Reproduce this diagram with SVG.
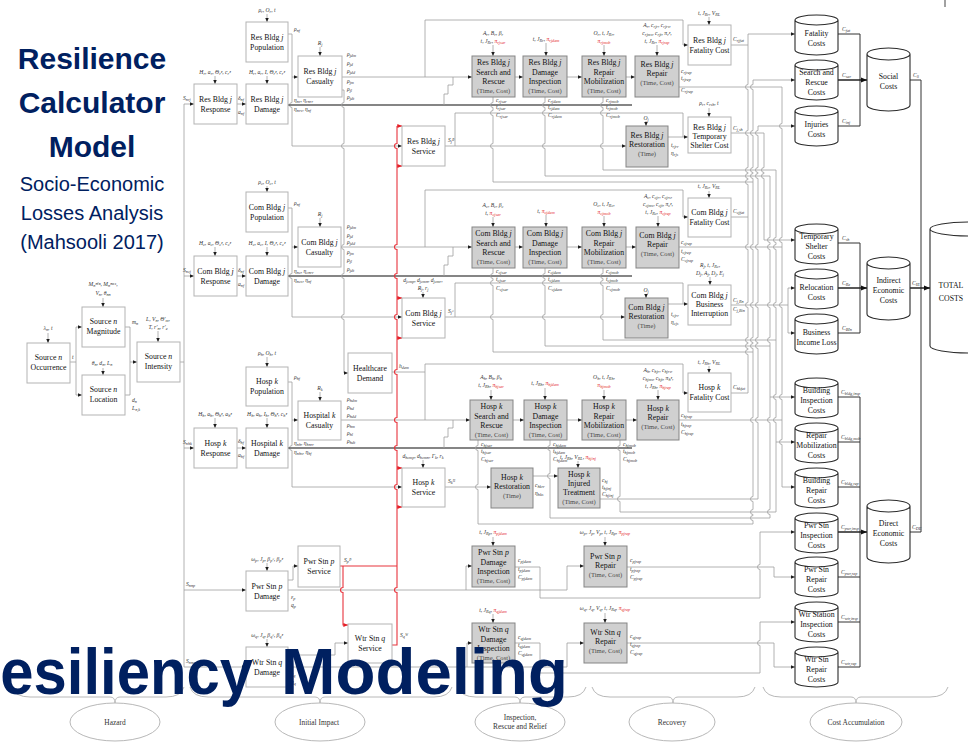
<svg xmlns="http://www.w3.org/2000/svg" width="968" height="742" viewBox="0 0 968 742">
<style>
.bx{fill:#fff;stroke:#b3b3b3;stroke-width:1}
.gb{fill:#d0d0d0;stroke:#858585;stroke-width:1}
.n{font-family:"Liberation Serif","DejaVu Serif",serif;font-size:7.8px;fill:#111;text-anchor:middle}
.tc{font-size:6.6px;fill:#4a4a4a}
.i{font-style:italic}
.p{font-family:"Liberation Serif","DejaVu Serif",serif;font-style:italic;font-size:5.6px;fill:#333;text-anchor:middle}
.pl{text-anchor:start}
.s{font-size:4.2px;baseline-shift:-1.2px}
.rd{fill:#e41e26}
.c{fill:none;stroke:#9e9e9e;stroke-width:.8}
.a{marker-end:url(#ah)}
.dk{fill:none;stroke:#5c5c5c;stroke-width:1.4}
.rl{fill:none;stroke:#e8343c;stroke-width:1.1}
.ra{marker-end:url(#ahr)}
.k{fill:none;stroke:#333;stroke-width:1}
.kb{fill:none;stroke:#222;stroke-width:1.5;marker-end:url(#ahb)}
.br{fill:none;stroke:#b8b8b8;stroke-width:1}
.el{fill:#fff;stroke:#b8b8b8;stroke-width:1}
.et{font-family:"Liberation Serif","DejaVu Serif",serif;font-size:7.4px;fill:#333;text-anchor:middle}
.tt{font-family:"Liberation Sans",Arial,sans-serif;fill:#002060;text-anchor:middle}
.ct{font-family:"Liberation Serif","DejaVu Serif",serif;font-size:7.8px;fill:#111;text-anchor:middle}
</style>
<defs>
<marker id="ah" viewBox="0 0 6 6" refX="6" refY="3" markerWidth="4.4" markerHeight="4.4" markerUnits="userSpaceOnUse" orient="auto"><path d="M0,0.4 6,3 0,5.6z" fill="#1e1e1e"/></marker>
<marker id="ahr" viewBox="0 0 6 6" refX="6" refY="3" markerWidth="4.6" markerHeight="4.6" markerUnits="userSpaceOnUse" orient="auto"><path d="M0,0.4 6,3 0,5.6z" fill="#e41e26"/></marker>
<marker id="ahb" viewBox="0 0 6 6" refX="6" refY="3" markerWidth="6.5" markerHeight="6.5" markerUnits="userSpaceOnUse" orient="auto"><path d="M0,0.5 6,3 0,5.5z" fill="#111"/></marker>
<path id="cyl" d="M0,5 A21.5,5 0 0 1 43,5 V35 A21.5,5 0 0 1 0,35 Z M0,5 A21.5,5 0 0 0 43,5" fill="#fff" stroke="#2b2b2b" stroke-width="1.1"/>
<path id="cylb" d="M0,6 A21.5,6 0 0 1 43,6 V57 A21.5,6 0 0 1 0,57 Z M0,6 A21.5,6 0 0 0 43,6" fill="#fff" stroke="#2b2b2b" stroke-width="1.1"/>
</defs>

<!-- title block -->
<g id="title">
<text class="tt" x="92" y="69" font-size="30" font-weight="700">Resilience</text>
<text class="tt" x="92" y="113" font-size="30" font-weight="700">Calculator</text>
<text class="tt" x="92" y="157" font-size="30" font-weight="700">Model</text>
<text class="tt" x="92" y="191" font-size="20">Socio-Economic</text>
<text class="tt" x="92" y="220" font-size="20">Losses Analysis</text>
<text class="tt" x="92" y="249" font-size="20">(Mahsooli 2017)</text>
</g>
<path d="M945,0 V7" stroke="#444" stroke-width="1"/>

<!-- stage brackets and stage ellipses -->
<g id="stages">
<path class="br" d="M12,687 Q15,697 30,697 H110 Q115,697 115,703 Q115,697 120,697 H166 Q181,697 184,687"/>
<path class="br" d="M190,687 Q193,697 208,697 H315 Q320,697 320,703 Q320,697 325,697 H434 Q449,697 452,687"/>
<path class="br" d="M458,687 Q461,697 476,697 H515 Q520,697 520,703 Q520,697 525,697 H568 Q583,697 586,687"/>
<path class="br" d="M592,687 Q595,697 610,697 H668 Q673,697 673,703 Q673,697 678,697 H737 Q752,697 755,687"/>
<path class="br" d="M763,687 Q766,697 781,697 H851 Q856,697 856,703 Q856,697 861,697 H930 Q945,697 948,687"/>
<g id="stage-hazard"><ellipse class="el" cx="115" cy="722" rx="45" ry="19"/><text class="et" x="115" y="725">Hazard</text></g>
<g id="stage-impact"><ellipse class="el" cx="320" cy="722" rx="45" ry="19"/><text class="et" x="319" y="725">Initial Impact</text></g>
<g id="stage-inspection"><ellipse class="el" cx="520" cy="722" rx="45" ry="19"/><text class="et" x="520" y="720">Inspection,</text><text class="et" x="520" y="729">Rescue and Relief</text></g>
<g id="stage-recovery"><ellipse class="el" cx="672" cy="722" rx="43" ry="19"/><text class="et" x="672" y="725">Recovery</text></g>
<g id="stage-cost"><ellipse class="el" cx="856" cy="722" rx="46" ry="19"/><text class="et" x="856" y="725">Cost Accumulation</text></g>
</g>

<!-- connectors -->
<g id="connectors">
<!-- hazard -->
<path class="c a" d="M48,333 V343"/>
<path class="c a" d="M103,298 V307"/>
<path class="c a" d="M103,368 V375"/>
<path class="c a" d="M158,331 V342"/>
<path class="c" d="M70,362 H76 M76,327 V395"/>
<path class="c a" d="M76,327 H82"/>
<path class="c a" d="M76,395 H82"/>
<path class="c" d="M125,327 H130 V395 H125"/>
<path class="c a" d="M130,362 H137"/>
<path class="c" d="M180,362 H184 M184,104 V667"/>
<path class="c a" d="M184,104 H194"/>
<path class="c a" d="M184,276 H194"/>
<path class="c a" d="M184,448 H194"/>
<path class="c a" d="M184,590 H246"/>
<path class="c a" d="M184,667 H246"/>

<!-- parameter arrows -->
<path class="c a" d="M267,14 V22"/><path class="c a" d="M215,76 V84"/><path class="c a" d="M267,76 V84"/><path class="c a" d="M320,47 V56"/>
<path class="c a" d="M267,186 V192"/><path class="c a" d="M215,247 V256"/><path class="c a" d="M267,247 V256"/><path class="c a" d="M320,218 V227"/>
<path class="c a" d="M267,357 V367"/><path class="c a" d="M215,418 V428"/><path class="c a" d="M267,418 V428"/><path class="c a" d="M320,392 V401"/>
<path class="c a" d="M493,45 V56"/><path class="c a" d="M546,43 V56"/><path class="c a" d="M604,45 V56"/><path class="c a" d="M657,45 V56"/><path class="c a" d="M709,17 V25"/><path class="c a" d="M709,108 V117"/><path class="c a" d="M646,121 V126"/>
<path class="c a" d="M493,217 V227"/><path class="c a" d="M546,215 V227"/><path class="c a" d="M604,216 V227"/><path class="c a" d="M658,216 V227"/><path class="c a" d="M709,191 V198"/><path class="c a" d="M710,277 V285"/><path class="c a" d="M646,294 V298"/><path class="c a" d="M423,292 V298"/>
<path class="c a" d="M491,390 V400"/><path class="c a" d="M545,388 V400"/><path class="c a" d="M604,390 V400"/><path class="c a" d="M658,390 V400"/><path class="c a" d="M709,366 V373"/><path class="c a" d="M578,461 V468"/><path class="c a" d="M423,460 V468"/>
<path class="c a" d="M267,563 V571"/><path class="c a" d="M493,537 V546"/><path class="c a" d="M605,537 V546"/>
<path class="c a" d="M267,639 V647"/><path class="c a" d="M493,614 V623"/><path class="c a" d="M605,613 V623"/>

<!-- response to damage -->
<path class="c a" d="M237,104 H246"/><path class="c a" d="M237,276 H246"/><path class="c a" d="M237,448 H246"/>

<!-- population feeds -->
<path class="c a" d="M288,34 H292 V102.5 a2.5,2.5 0 0 0 0,5 V146 H402"/>
<path class="c a" d="M292,77 H298"/>
<path class="c a" d="M288,208 H292 V273.5 a2.5,2.5 0 0 0 0,5 V317 H402"/>
<path class="c a" d="M292,247 H298"/>
<path class="c a" d="M288,382 H292 V445.5 a2.5,2.5 0 0 0 0,5 V487 H402"/>
<path class="c a" d="M292,420 H298"/>

<!-- damage state lines -->
<path class="dk" d="M288,105 H632"/>
<path class="dk" d="M288,276 H632"/>
<path class="dk" d="M288,448 H632"/>

<!-- casualty to search and rescue -->
<path class="c a" d="M342,77 H472"/>
<path class="c a" d="M341,247 H472"/>
<path class="c a" d="M341,420 H470"/>
<path class="c" d="M444,105 V94 H448 V85 H453 V77"/>
<path class="c" d="M444,276 V265 H448 V256 H453 V247"/>
<path class="c" d="M444,448 V437 H448 V428 H453 V420"/>
<path class="c a" d="M425,77 V20 H683 V45 H688"/>
<path class="c a" d="M425,247 V190 H683 V217 H688"/>
<path class="c a" d="M425,420 V364 H683 V393 H688"/>
<path class="c" d="M392,372 H425"/>

<!-- healthcare demand -->
<path class="c a" d="M342,90 H344 V102.5 a2.5,2.5 0 0 0 0,5 V143.5 a2.5,2.5 0 0 0 0,5 V244.5 a2.5,2.5 0 0 0 0,5 V273.5 a2.5,2.5 0 0 0 0,5 V314.5 a2.5,2.5 0 0 0 0,5 V373 H348"/>

<!-- service outputs -->
<path class="c a" d="M445,146 H626"/>
<path class="c a" d="M455,146 V113 H683 V137 H688"/>
<path class="c" d="M668,137 H683"/>
<path class="c a" d="M445,317 H625"/>
<path class="c a" d="M455,317 V283 H683 V304 H688"/>
<path class="c" d="M668,304 H683"/>
<path class="c a" d="M445,487 H491"/>
<path class="c a" d="M533,476 H558"/>

<!-- inspection and repair chains -->
<path class="c a" d="M515,77 H523"/><path class="c a" d="M567,77 H582"/><path class="c a" d="M626,77 H635"/>
<path class="c a" d="M515,247 H523"/><path class="c a" d="M567,247 H582"/><path class="c a" d="M626,247 H636"/>
<path class="c a" d="M513,420 H524"/><path class="c a" d="M567,420 H582"/><path class="c a" d="M626,420 H637"/>

<!-- cost outputs dropping to the buses -->
<path class="c" d="M493,97 V102.5 a2.5,2.5 0 0 0 0,5 V110.5 a2.5,2.5 0 0 0 0,5 V143.5 a2.5,2.5 0 0 0 0,5 V182 H753"/>
<path class="c" d="M545,97 V102.5 a2.5,2.5 0 0 0 0,5 V110.5 a2.5,2.5 0 0 0 0,5 V143.5 a2.5,2.5 0 0 0 0,5 V176 H770"/>
<path class="c" d="M603,97 V102.5 a2.5,2.5 0 0 0 0,5 V110.5 a2.5,2.5 0 0 0 0,5 V143.5 a2.5,2.5 0 0 0 0,5 V170 H776"/>
<path class="c" d="M679,87 H782"/><path class="c" d="M731,45 H748"/><path class="c" d="M731,133 H764"/>
<path class="c" d="M493,268 V273.5 a2.5,2.5 0 0 0 0,5 V280.5 a2.5,2.5 0 0 0 0,5 V314.5 a2.5,2.5 0 0 0 0,5 V352 H753"/>
<path class="c" d="M545,268 V273.5 a2.5,2.5 0 0 0 0,5 V280.5 a2.5,2.5 0 0 0 0,5 V314.5 a2.5,2.5 0 0 0 0,5 V346 H770"/>
<path class="c" d="M603,268 V273.5 a2.5,2.5 0 0 0 0,5 V280.5 a2.5,2.5 0 0 0 0,5 V314.5 a2.5,2.5 0 0 0 0,5 V340 H776"/>
<path class="c" d="M679,247 H782"/><path class="c" d="M731,217 H748"/><path class="c" d="M731,305 H788"/>
<path class="c" d="M478,440 V445.5 a2.5,2.5 0 0 0 0,5 V484.5 a2.5,2.5 0 0 0 0,5 V524 H753"/>
<path class="c" d="M550,440 V445.5 a2.5,2.5 0 0 0 0,5 V473.5 a2.5,2.5 0 0 0 0,5 V518 H770"/>
<path class="c" d="M620,440 V445.5 a2.5,2.5 0 0 0 0,5 V496.5 a2.5,2.5 0 0 0 0,5 V512 H776"/>
<path class="c" d="M679,420 H782"/><path class="c" d="M731,393 H748"/><path class="c" d="M600,499 H758"/>

<!-- cost buses -->
<path class="c" d="M748,34 V84.5 a2.5,2.5 0 0 0 0,5 V130.5 a2.5,2.5 0 0 0 0,5 V167.5 a2.5,2.5 0 0 0 0,5 V173.5 a2.5,2.5 0 0 0 0,5 V179.5 a2.5,2.5 0 0 0 0,5 V244.5 a2.5,2.5 0 0 0 0,5 V302.5 a2.5,2.5 0 0 0 0,5 V337.5 a2.5,2.5 0 0 0 0,5 V343.5 a2.5,2.5 0 0 0 0,5 V349.5 a2.5,2.5 0 0 0 0,5 V393"/>
<path class="c" d="M753,80 V84.5 a2.5,2.5 0 0 0 0,5 V130.5 a2.5,2.5 0 0 0 0,5 V167.5 a2.5,2.5 0 0 0 0,5 V173.5 a2.5,2.5 0 0 0 0,5 V244.5 a2.5,2.5 0 0 0 0,5 V302.5 a2.5,2.5 0 0 0 0,5 V337.5 a2.5,2.5 0 0 0 0,5 V343.5 a2.5,2.5 0 0 0 0,5 V417.5 a2.5,2.5 0 0 0 0,5 V496.5 a2.5,2.5 0 0 0 0,5 V509.5 a2.5,2.5 0 0 0 0,5 V515.5 a2.5,2.5 0 0 0 0,5 V524"/>
<path class="c" d="M758,126 V130.5 a2.5,2.5 0 0 0 0,5 V167.5 a2.5,2.5 0 0 0 0,5 V173.5 a2.5,2.5 0 0 0 0,5 V244.5 a2.5,2.5 0 0 0 0,5 V302.5 a2.5,2.5 0 0 0 0,5 V337.5 a2.5,2.5 0 0 0 0,5 V343.5 a2.5,2.5 0 0 0 0,5 V417.5 a2.5,2.5 0 0 0 0,5 V499"/>
<path class="c" d="M764,133 V167.5 a2.5,2.5 0 0 0 0,5 V173.5 a2.5,2.5 0 0 0 0,5 V240"/>
<path class="c" d="M770,176 V237.5 a2.5,2.5 0 0 0 0,5 V244.5 a2.5,2.5 0 0 0 0,5 V302.5 a2.5,2.5 0 0 0 0,5 V337.5 a2.5,2.5 0 0 0 0,5 V417.5 a2.5,2.5 0 0 0 0,5 V509.5 a2.5,2.5 0 0 0 0,5 V518"/>
<path class="c" d="M776,170 V237.5 a2.5,2.5 0 0 0 0,5 V244.5 a2.5,2.5 0 0 0 0,5 V302.5 a2.5,2.5 0 0 0 0,5 V394.5 a2.5,2.5 0 0 0 0,5 V417.5 a2.5,2.5 0 0 0 0,5 V512"/>
<path class="c" d="M782,87 V123.5 a2.5,2.5 0 0 0 0,5 V237.5 a2.5,2.5 0 0 0 0,5 V302.5 a2.5,2.5 0 0 0 0,5 V394.5 a2.5,2.5 0 0 0 0,5 V439.5 a2.5,2.5 0 0 0 0,5 V487"/>
<path class="c" d="M788,288 V333"/>
<path class="c a" d="M748,34 H795"/>
<path class="c a" d="M753,80 H795"/>
<path class="c a" d="M758,126 H795"/>
<path class="c a" d="M764,240 H795"/>
<path class="c a" d="M788,288 H795"/>
<path class="c a" d="M788,333 H795"/>
<path class="c a" d="M770,397 H795"/>
<path class="c a" d="M776,442 H795"/>
<path class="c a" d="M782,487 H795"/>

<!-- lifelines: power station -->
<path class="c a" d="M288,580 H293 V566 H298"/>
<path class="c" d="M288,590 H567"/>
<path class="c a" d="M466,590 V566 H472"/>
<path class="c a" d="M567,590 V566 H584"/>
<path class="c a" d="M515,567 H540 V598 H760 V569.5 a2.5,2.5 0 0 1 0,-5 V532 H795"/>
<path class="c a" d="M627,567 H774 V577 H795"/>
<!-- lifelines: water station -->
<path class="c a" d="M288,655 H335 V643 H348"/>
<path class="c" d="M288,667 H567"/>
<path class="c a" d="M467,667 V643 H472"/>
<path class="c a" d="M567,667 V643 H584"/>
<path class="c a" d="M515,643 H540 V673 H760 V645.5 a2.5,2.5 0 0 1 0,-5 V622 H795"/>
<path class="c a" d="M627,643 H774 V667 H795"/>

<!-- utility service line -->
<path class="rl" d="M397,126 V143.5 a2.5,2.5 0 0 0 0,5 V244.5 a2.5,2.5 0 0 0 0,5 V273.5 a2.5,2.5 0 0 0 0,5 V314.5 a2.5,2.5 0 0 0 0,5 V369.5 a2.5,2.5 0 0 0 0,5 V417.5 a2.5,2.5 0 0 0 0,5 V445.5 a2.5,2.5 0 0 0 0,5 V484.5 a2.5,2.5 0 0 0 0,5 V587.5 a2.5,2.5 0 0 0 0,5 V645 H392"/>
<path class="rl" d="M340,566 H397"/>
<path class="rl ra" d="M343,566 V587.5 a2.5,2.5 0 0 0 0,5 V625 H348"/>
<path class="rl ra" d="M397,126 H402"/><path class="rl ra" d="M397,166 H402"/>
<path class="rl ra" d="M397,298 H402"/><path class="rl ra" d="M397,338 H402"/>
<path class="rl ra" d="M397,468 H402"/><path class="rl ra" d="M397,507 H402"/>

<!-- cost accumulation -->
<path class="k" d="M838,34 H860 V126 H838"/>
<path class="kb" d="M838,80 H867"/>
<path class="k" d="M838,243 H860 V333 H838"/>
<path class="kb" d="M838,288 H867"/>
<path class="k" d="M838,397 H860 V667 H838 M838,442 H860 M838,487 H860 M838,577 H860 M838,622 H860"/>
<path class="kb" d="M838,532 H867"/>
<path class="k" d="M910,80 H921 V532 H910"/>
<path class="kb" d="M910,288 H930"/>
</g>

<!-- hazard nodes -->
<g id="source-occurrence"><rect class="bx" x="27" y="343" width="43" height="40"/><text class="n" x="48.5" y="360">Source <tspan class="i">n</tspan></text><text class="n" x="48.5" y="370">Occurrence</text><text class="p" x="48" y="330">λ<tspan class="s">n</tspan>, t</text><text class="p pl" x="72" y="359">t</text></g>
<g id="source-magnitude"><rect class="bx" x="82" y="307" width="43" height="40"/><text class="n" x="103.5" y="324">Source <tspan class="i">n</tspan></text><text class="n" x="103.5" y="334">Magnitude</text><text class="p" x="103" y="286">M<tspan class="s">n</tspan>ᵐⁱⁿ, M<tspan class="s">n</tspan>ᵐᵃˣ,</text><text class="p" x="103" y="295">V<tspan class="s">n</tspan>, θ<tspan class="s">nn</tspan></text><text class="p pl" x="132" y="324">m<tspan class="s">n</tspan></text></g>
<g id="source-location"><rect class="bx" x="82" y="375" width="43" height="40"/><text class="n" x="103.5" y="392">Source <tspan class="i">n</tspan></text><text class="n" x="103.5" y="402">Location</text><text class="p" x="102" y="365">θ<tspan class="s">n</tspan>, d<tspan class="s">n</tspan>, L<tspan class="s">n</tspan></text><text class="p pl" x="132" y="402">d<tspan class="s">n</tspan></text><text class="p pl" x="132" y="410">L<tspan class="s">n,k</tspan></text></g>
<g id="source-intensity"><rect class="bx" x="137" y="342" width="43" height="40"/><text class="n" x="158.5" y="359">Source <tspan class="i">n</tspan></text><text class="n" x="158.5" y="369">Intensity</text><text class="p" x="158" y="321">L, V<tspan class="s">n</tspan>, Θ'<tspan class="s">m</tspan>,</text><text class="p" x="158" y="329">T, r'<tspan class="s">n</tspan>, r'<tspan class="s">e</tspan></text></g>
<g id="intensity-labels"><text class="p pl" x="183" y="100">S<tspan class="s">nrj</tspan></text><text class="p pl" x="183" y="272">S<tspan class="s">ncj</tspan></text><text class="p pl" x="183" y="444">S<tspan class="s">nhk</tspan></text><text class="p pl" x="186" y="586">S<tspan class="s">nnp</tspan></text><text class="p pl" x="186" y="663">S<tspan class="s">nnq</tspan></text></g>

<!-- residential buildings -->
<g id="res-population"><rect class="bx" x="246" y="22" width="42" height="40"/><text class="n" x="267" y="40">Res Bldg <tspan class="i">j</tspan></text><text class="n" x="267" y="50">Population</text><text class="p" x="267" y="12">ρ<tspan class="s">r</tspan>, O<tspan class="s">r</tspan>, t</text><text class="p pl" x="294" y="31">ρ<tspan class="s">nf</tspan></text></g>
<g id="res-response"><rect class="bx" x="194" y="84" width="43" height="40"/><text class="n" x="215.5" y="102">Res Bldg <tspan class="i">j</tspan></text><text class="n" x="215.5" y="112">Response</text><text class="p" x="215" y="74">H<tspan class="s">r</tspan>, a<tspan class="s">r</tspan>, Θ<tspan class="s">r</tspan>ᵉ, c<tspan class="s">r</tspan>ᵉ</text><text class="p pl" x="238" y="100">δ<tspan class="s">nf</tspan></text><text class="p pl" x="238" y="114">a<tspan class="s">nf</tspan></text></g>
<g id="res-damage"><rect class="bx" x="246" y="84" width="42" height="40"/><text class="n" x="267" y="102">Res Bldg <tspan class="i">j</tspan></text><text class="n" x="267" y="112">Damage</text><text class="p" x="267" y="74">H<tspan class="s">r</tspan>, a<tspan class="s">r</tspan>, I, Θ<tspan class="s">r</tspan>ᵉ, c<tspan class="s">r</tspan>ᵉ</text><text class="p pl" x="294" y="102">η<tspan class="s">nr</tspan>, η<tspan class="s">rnrr</tspan></text><text class="p pl" x="294" y="111">η<tspan class="s">nrs</tspan>, η<tspan class="s">nf</tspan></text></g>
<g id="res-casualty"><rect class="bx" x="298" y="56" width="44" height="41"/><text class="n" x="320" y="74">Res Bldg <tspan class="i">j</tspan></text><text class="n" x="320" y="84">Casualty</text><text class="p" x="320" y="45">R<tspan class="s">j</tspan></text><text class="p pl" x="347" y="56">ρ<tspan class="s">jdm</tspan></text><text class="p pl" x="347" y="64.5">ρ<tspan class="s">jd</tspan></text><text class="p pl" x="347" y="73">ρ<tspan class="s">jdd</tspan></text><text class="p pl" x="347" y="83">ρ<tspan class="s">jm</tspan></text><text class="p pl" x="347" y="91">ρ<tspan class="s">jl</tspan></text><text class="p pl" x="347" y="99">ρ<tspan class="s">jdt</tspan></text></g>
<g id="res-service"><rect class="bx" x="402" y="126" width="43" height="40"/><text class="n" x="423.5" y="144">Res Bldg <tspan class="i">j</tspan></text><text class="n" x="423.5" y="154">Service</text><text class="p pl" x="448" y="142">S<tspan class="s">j</tspan>ᴿ</text></g>
<g id="res-search-rescue"><rect class="gb" x="472" y="56" width="43" height="41"/><text class="n" x="493.5" y="65">Res Bldg <tspan class="i">j</tspan></text><text class="n" x="493.5" y="74.5">Search and</text><text class="n" x="493.5" y="84">Rescue</text><text class="n tc" x="493.5" y="93">(Time, Cost)</text><text class="p" x="493" y="35">A<tspan class="s">r</tspan>, B<tspan class="s">r</tspan>, β<tspan class="s">r</tspan></text><text class="p" x="493" y="43">t, J<tspan class="s">Rr</tspan>, <tspan class="rd">π<tspan class="s">rjsar</tspan></tspan></text><text class="p pl" x="496" y="102">c<tspan class="s">rjsar</tspan></text><text class="p pl" x="496" y="109">t<tspan class="s">rjsar</tspan></text><text class="p pl" x="496" y="117">C<tspan class="s">rjsar</tspan></text></g>
<g id="res-damage-inspection"><rect class="gb" x="523" y="56" width="44" height="41"/><text class="n" x="545" y="65">Res Bldg <tspan class="i">j</tspan></text><text class="n" x="545" y="74.5">Damage</text><text class="n" x="545" y="84">Inspection</text><text class="n tc" x="545" y="93">(Time, Cost)</text><text class="p" x="546" y="41">t, J<tspan class="s">Rr</tspan>, <tspan class="rd">π<tspan class="s">rjdam</tspan></tspan></text><text class="p pl" x="548" y="102">c<tspan class="s">rjdam</tspan></text><text class="p pl" x="548" y="109">t<tspan class="s">rjdam</tspan></text><text class="p pl" x="548" y="117">C<tspan class="s">rjdam</tspan></text></g>
<g id="res-repair-mobilization"><rect class="gb" x="582" y="56" width="44" height="41"/><text class="n" x="604" y="65">Res Bldg <tspan class="i">j</tspan></text><text class="n" x="604" y="74.5">Repair</text><text class="n" x="604" y="84">Mobilization</text><text class="n tc" x="604" y="93">(Time, Cost)</text><text class="p" x="604" y="35">O<tspan class="s">r</tspan>, t, J<tspan class="s">Rr</tspan>,</text><text class="p rd" x="604" y="43">π<tspan class="s">rjmob</tspan></text><text class="p pl" x="606" y="102">c<tspan class="s">rjmob</tspan></text><text class="p pl" x="606" y="109">t<tspan class="s">rjmob</tspan></text><text class="p pl" x="606" y="117">C<tspan class="s">rjmob</tspan></text></g>
<g id="res-repair"><rect class="gb" x="635" y="56" width="44" height="41"/><text class="n" x="657" y="67">Res Bldg <tspan class="i">j</tspan></text><text class="n" x="657" y="76">Repair</text><text class="n tc" x="657" y="85">(Time, Cost)</text><text class="p" x="657" y="27">A<tspan class="s">r</tspan>, c<tspan class="s">rjr</tspan>, c<tspan class="s">rjrs</tspan>,</text><text class="p" x="657" y="35">c<tspan class="s">rjms</tspan>, c<tspan class="s">rjt</tspan>, π<tspan class="s">r</tspan>ᵉ,</text><text class="p" x="657" y="43">t, J<tspan class="s">Rr</tspan>, <tspan class="rd">π<tspan class="s">rjrep</tspan></tspan></text><text class="p pl" x="681" y="73">c<tspan class="s">rjrep</tspan></text><text class="p pl" x="681" y="80">t<tspan class="s">rjrep</tspan></text><text class="p pl" x="681" y="92">C<tspan class="s">rjrep</tspan></text></g>
<g id="res-restoration"><rect class="gb" x="626" y="126" width="42" height="41"/><text class="n" x="647" y="138">Res Bldg <tspan class="i">j</tspan></text><text class="n" x="647" y="147">Restoration</text><text class="n tc" x="647" y="156">(Time)</text><text class="p" x="646" y="120">O<tspan class="s">j</tspan></text><text class="p pl" x="671" y="147">t<tspan class="s">rjrr</tspan></text><text class="p pl" x="671" y="155">η<tspan class="s">rjs</tspan></text></g>
<g id="res-fatality-cost"><rect class="bx" x="688" y="25" width="43" height="40"/><text class="n" x="709.5" y="43">Res Bldg <tspan class="i">j</tspan></text><text class="n" x="709.5" y="53">Fatality Cost</text><text class="p" x="709" y="15">t, J<tspan class="s">Rr</tspan>, V<tspan class="s">RL</tspan></text><text class="p pl" x="733" y="41">C<tspan class="s">rjfat</tspan></text></g>
<g id="res-shelter-cost"><rect class="bx" x="688" y="117" width="43" height="36"/><text class="n" x="709.5" y="130">Res Bldg <tspan class="i">j</tspan></text><text class="n" x="709.5" y="139">Temporary</text><text class="n" x="709.5" y="148">Shelter Cost</text><text class="p" x="709" y="105">ρ<tspan class="s">r</tspan>, c<tspan class="s">rsh</tspan>, t</text><text class="p pl" x="733" y="130">C<tspan class="s">j,sh</tspan></text></g>

<!-- commercial buildings -->
<g id="com-population"><rect class="bx" x="246" y="192" width="42" height="40"/><text class="n" x="267" y="210">Com Bldg <tspan class="i">j</tspan></text><text class="n" x="267" y="220">Population</text><text class="p" x="267" y="184">ρ<tspan class="s">c</tspan>, O<tspan class="s">c</tspan>, t</text><text class="p pl" x="294" y="205">ρ<tspan class="s">nf</tspan></text></g>
<g id="com-response"><rect class="bx" x="194" y="256" width="43" height="40"/><text class="n" x="215.5" y="274">Com Bldg <tspan class="i">j</tspan></text><text class="n" x="215.5" y="284">Response</text><text class="p" x="215" y="245">H<tspan class="s">c</tspan>, a<tspan class="s">c</tspan>, Θ<tspan class="s">c</tspan>ᵉ, c<tspan class="s">c</tspan>ᵉ</text><text class="p pl" x="238" y="272">δ<tspan class="s">nf</tspan></text><text class="p pl" x="238" y="286">a<tspan class="s">nf</tspan></text></g>
<g id="com-damage"><rect class="bx" x="246" y="256" width="42" height="40"/><text class="n" x="267" y="274">Com Bldg <tspan class="i">j</tspan></text><text class="n" x="267" y="284">Damage</text><text class="p" x="267" y="245">H<tspan class="s">c</tspan>, a<tspan class="s">c</tspan>, I, Θ<tspan class="s">c</tspan>ᵉ, c<tspan class="s">c</tspan>ᵉ</text><text class="p pl" x="294" y="273">η<tspan class="s">nc</tspan>, η<tspan class="s">cnrr</tspan></text><text class="p pl" x="294" y="282">η<tspan class="s">ncs</tspan>, η<tspan class="s">nf</tspan></text></g>
<g id="com-casualty"><rect class="bx" x="298" y="227" width="43" height="40"/><text class="n" x="319.5" y="245">Com Bldg <tspan class="i">j</tspan></text><text class="n" x="319.5" y="255">Casualty</text><text class="p" x="320" y="216">R<tspan class="s">j</tspan></text><text class="p pl" x="347" y="228">ρ<tspan class="s">jdm</tspan></text><text class="p pl" x="347" y="236.5">ρ<tspan class="s">jd</tspan></text><text class="p pl" x="347" y="244">ρ<tspan class="s">jdd</tspan></text><text class="p pl" x="347" y="254">ρ<tspan class="s">jm</tspan></text><text class="p pl" x="347" y="262">ρ<tspan class="s">jl</tspan></text><text class="p pl" x="347" y="270.5">ρ<tspan class="s">jdt</tspan></text></g>
<g id="com-service"><rect class="bx" x="402" y="298" width="43" height="40"/><text class="n" x="423.5" y="316">Com Bldg <tspan class="i">j</tspan></text><text class="n" x="423.5" y="326">Service</text><text class="p" x="423" y="282">d<tspan class="s">jcmp</tspan>, d<tspan class="s">jcmn</tspan>, d<tspan class="s">jcmr</tspan>,</text><text class="p" x="423" y="290">R<tspan class="s">j</tspan>, r<tspan class="s">j</tspan></text><text class="p pl" x="448" y="313">S<tspan class="s">j</tspan>ᶜ</text></g>
<g id="com-search-rescue"><rect class="gb" x="472" y="227" width="43" height="41"/><text class="n" x="493.5" y="236">Com Bldg <tspan class="i">j</tspan></text><text class="n" x="493.5" y="245.5">Search and</text><text class="n" x="493.5" y="255">Rescue</text><text class="n tc" x="493.5" y="264">(Time, Cost)</text><text class="p" x="493" y="207">A<tspan class="s">c</tspan>, B<tspan class="s">c</tspan>, β<tspan class="s">c</tspan></text><text class="p" x="493" y="215">t, <tspan class="rd">π<tspan class="s">cjsar</tspan></tspan></text><text class="p pl" x="496" y="273">c<tspan class="s">cjsar</tspan></text><text class="p pl" x="496" y="281">t<tspan class="s">cjsar</tspan></text><text class="p pl" x="496" y="290">C<tspan class="s">cjsar</tspan></text></g>
<g id="com-damage-inspection"><rect class="gb" x="523" y="227" width="44" height="41"/><text class="n" x="545" y="236">Com Bldg <tspan class="i">j</tspan></text><text class="n" x="545" y="245.5">Damage</text><text class="n" x="545" y="255">Inspection</text><text class="n tc" x="545" y="264">(Time, Cost)</text><text class="p" x="546" y="213">t, <tspan class="rd">π<tspan class="s">cjdam</tspan></tspan></text><text class="p pl" x="548" y="273">c<tspan class="s">cjdam</tspan></text><text class="p pl" x="548" y="281">t<tspan class="s">cjdam</tspan></text><text class="p pl" x="548" y="290">C<tspan class="s">cjdam</tspan></text></g>
<g id="com-repair-mobilization"><rect class="gb" x="582" y="227" width="44" height="41"/><text class="n" x="604" y="236">Com Bldg <tspan class="i">j</tspan></text><text class="n" x="604" y="245.5">Repair</text><text class="n" x="604" y="255">Mobilization</text><text class="n tc" x="604" y="264">(Time, Cost)</text><text class="p" x="604" y="206">O<tspan class="s">c</tspan>, t, J<tspan class="s">Rc</tspan>,</text><text class="p rd" x="604" y="214">π<tspan class="s">cjmob</tspan></text><text class="p pl" x="606" y="273">c<tspan class="s">cjmob</tspan></text><text class="p pl" x="606" y="281">t<tspan class="s">cjmob</tspan></text><text class="p pl" x="606" y="290">C<tspan class="s">cjmob</tspan></text></g>
<g id="com-repair"><rect class="gb" x="636" y="227" width="43" height="41"/><text class="n" x="657.5" y="238">Com Bldg <tspan class="i">j</tspan></text><text class="n" x="657.5" y="247">Repair</text><text class="n tc" x="657.5" y="256">(Time, Cost)</text><text class="p" x="658" y="198">A<tspan class="s">c</tspan>, c<tspan class="s">cjr</tspan>, c<tspan class="s">cjrs</tspan>,</text><text class="p" x="658" y="206">c<tspan class="s">cjms</tspan>, c<tspan class="s">cjt</tspan>, π<tspan class="s">c</tspan>ᵉ,</text><text class="p" x="658" y="214">t, J<tspan class="s">Rc</tspan>, <tspan class="rd">π<tspan class="s">cjrep</tspan></tspan></text><text class="p pl" x="681" y="244">c<tspan class="s">cjrep</tspan></text><text class="p pl" x="681" y="253">t<tspan class="s">cjrep</tspan></text><text class="p pl" x="681" y="261">C<tspan class="s">cjrep</tspan></text></g>
<g id="com-restoration"><rect class="gb" x="625" y="298" width="43" height="40"/><text class="n" x="646.5" y="310">Com Bldg <tspan class="i">j</tspan></text><text class="n" x="646.5" y="319">Restoration</text><text class="n tc" x="646.5" y="328">(Time)</text><text class="p" x="646" y="292">O<tspan class="s">j</tspan></text><text class="p pl" x="671" y="316">t<tspan class="s">cjrr</tspan></text><text class="p pl" x="671" y="324">η<tspan class="s">cjs</tspan></text></g>
<g id="com-fatality-cost"><rect class="bx" x="688" y="198" width="43" height="39"/><text class="n" x="709.5" y="215">Com Bldg <tspan class="i">j</tspan></text><text class="n" x="709.5" y="225">Fatality Cost</text><text class="p" x="709" y="188">t, J<tspan class="s">Rc</tspan>, V<tspan class="s">RL</tspan></text><text class="p pl" x="733" y="213">C<tspan class="s">cjfat</tspan></text></g>
<g id="com-business-interruption"><rect class="bx" x="688" y="285" width="43" height="40"/><text class="n" x="709.5" y="298">Com Bldg <tspan class="i">j</tspan></text><text class="n" x="709.5" y="307">Business</text><text class="n" x="709.5" y="316">Interruption</text><text class="p" x="710" y="267">R<tspan class="s">j</tspan>, t, J<tspan class="s">Rc</tspan>,</text><text class="p" x="710" y="275">D<tspan class="s">j</tspan>, A<tspan class="s">j</tspan>, D<tspan class="s">j</tspan>, E<tspan class="s">j</tspan></text><text class="p pl" x="733" y="302">C<tspan class="s">j,Rn</tspan></text><text class="p pl" x="733" y="311">C<tspan class="s">j,Bin</tspan></text></g>

<!-- hospitals -->
<g id="hosp-population"><rect class="bx" x="246" y="367" width="42" height="39"/><text class="n" x="267" y="384">Hosp <tspan class="i">k</tspan></text><text class="n" x="267" y="394">Population</text><text class="p" x="267" y="355">ρ<tspan class="s">h</tspan>, O<tspan class="s">h</tspan>, t</text><text class="p pl" x="294" y="379">ρ<tspan class="s">hf</tspan></text></g>
<g id="hosp-response"><rect class="bx" x="194" y="428" width="43" height="40"/><text class="n" x="215.5" y="446">Hosp <tspan class="i">k</tspan></text><text class="n" x="215.5" y="456">Response</text><text class="p" x="215" y="416">H<tspan class="s">h</tspan>, a<tspan class="s">h</tspan>, Θ<tspan class="s">h</tspan>ᵉ, a<tspan class="s">h</tspan>ᵉ</text><text class="p pl" x="238" y="443">δ<tspan class="s">hf</tspan></text><text class="p pl" x="238" y="457">a<tspan class="s">hf</tspan></text></g>
<g id="hosp-damage"><rect class="bx" x="246" y="428" width="42" height="40"/><text class="n" x="267" y="446">Hospital <tspan class="i">k</tspan></text><text class="n" x="267" y="456">Damage</text><text class="p" x="267" y="416">H<tspan class="s">h</tspan>, a<tspan class="s">h</tspan>, I<tspan class="s">h</tspan>, Θ<tspan class="s">h</tspan>ᵉ, c<tspan class="s">h</tspan>ᵉ</text><text class="p pl" x="294" y="445">η<tspan class="s">nh</tspan>, η<tspan class="s">hnrr</tspan></text><text class="p pl" x="294" y="454">η<tspan class="s">nhs</tspan>, η<tspan class="s">hf</tspan></text></g>
<g id="hosp-casualty"><rect class="bx" x="298" y="401" width="43" height="39"/><text class="n" x="319.5" y="418">Hospital <tspan class="i">k</tspan></text><text class="n" x="319.5" y="428">Casualty</text><text class="p" x="320" y="390">R<tspan class="s">k</tspan></text><text class="p pl" x="347" y="401">ρ<tspan class="s">hdm</tspan></text><text class="p pl" x="347" y="409">ρ<tspan class="s">hd</tspan></text><text class="p pl" x="347" y="417">ρ<tspan class="s">hdd</tspan></text><text class="p pl" x="347" y="427">ρ<tspan class="s">hm</tspan></text><text class="p pl" x="347" y="435">ρ<tspan class="s">hl</tspan></text><text class="p pl" x="347" y="443">ρ<tspan class="s">hdt</tspan></text></g>
<g id="healthcare-demand"><rect class="bx" x="348" y="353" width="44" height="40"/><text class="n" x="370" y="371">Healthcare</text><text class="n" x="370" y="381">Demand</text><text class="p pl" x="399" y="368">h<tspan class="s">dem</tspan></text></g>
<g id="hosp-service"><rect class="bx" x="402" y="468" width="43" height="39"/><text class="n" x="423.5" y="485">Hosp <tspan class="i">k</tspan></text><text class="n" x="423.5" y="495">Service</text><text class="p" x="423" y="458">d<tspan class="s">hcmp</tspan>, d<tspan class="s">hcmn</tspan>, Γ<tspan class="s">k</tspan>, r<tspan class="s">k</tspan></text><text class="p pl" x="448" y="483">S<tspan class="s">k</tspan>ᴴ</text></g>
<g id="hosp-search-rescue"><rect class="gb" x="470" y="400" width="43" height="40"/><text class="n" x="491.5" y="409">Hosp <tspan class="i">k</tspan></text><text class="n" x="491.5" y="418.5">Search and</text><text class="n" x="491.5" y="428">Rescue</text><text class="n tc" x="491.5" y="437">(Time, Cost)</text><text class="p" x="491" y="379">A<tspan class="s">h</tspan>, B<tspan class="s">h</tspan>, β<tspan class="s">h</tspan></text><text class="p" x="491" y="387">t, J<tspan class="s">Rh</tspan>, <tspan class="rd">π<tspan class="s">hjsar</tspan></tspan></text><text class="p pl" x="481" y="446">c<tspan class="s">hjsar</tspan></text><text class="p pl" x="481" y="453">t<tspan class="s">hjsar</tspan></text><text class="p pl" x="481" y="461">C<tspan class="s">hjsar</tspan></text></g>
<g id="hosp-damage-inspection"><rect class="gb" x="524" y="400" width="43" height="40"/><text class="n" x="545.5" y="409">Hosp <tspan class="i">k</tspan></text><text class="n" x="545.5" y="418.5">Damage</text><text class="n" x="545.5" y="428">Inspection</text><text class="n tc" x="545.5" y="437">(Time, Cost)</text><text class="p" x="545" y="385">t, J<tspan class="s">Rh</tspan>, <tspan class="rd">π<tspan class="s">hjdam</tspan></tspan></text><text class="p pl" x="553" y="446">c<tspan class="s">hjdam</tspan></text><text class="p pl" x="553" y="453">t<tspan class="s">hjdam</tspan></text><text class="p pl" x="553" y="461">C<tspan class="s">hjdam</tspan></text></g>
<g id="hosp-repair-mobilization"><rect class="gb" x="582" y="400" width="44" height="40"/><text class="n" x="604" y="409">Hosp <tspan class="i">k</tspan></text><text class="n" x="604" y="418.5">Repair</text><text class="n" x="604" y="428">Mobilization</text><text class="n tc" x="604" y="437">(Time, Cost)</text><text class="p" x="604" y="379">O<tspan class="s">h</tspan>, t, J<tspan class="s">Rh</tspan>,</text><text class="p rd" x="604" y="387">π<tspan class="s">hjmob</tspan></text><text class="p pl" x="623" y="446">c<tspan class="s">hjmob</tspan></text><text class="p pl" x="623" y="453">t<tspan class="s">hjmob</tspan></text><text class="p pl" x="623" y="461">C<tspan class="s">hjmob</tspan></text></g>
<g id="hosp-repair"><rect class="gb" x="637" y="400" width="42" height="40"/><text class="n" x="658" y="411">Hosp <tspan class="i">k</tspan></text><text class="n" x="658" y="420">Repair</text><text class="n tc" x="658" y="429">(Time, Cost)</text><text class="p" x="658" y="372">A<tspan class="s">h</tspan>, c<tspan class="s">hjr</tspan>, c<tspan class="s">hjrs</tspan>,</text><text class="p" x="658" y="380">c<tspan class="s">hjms</tspan>, c<tspan class="s">hjt</tspan>, π<tspan class="s">h</tspan>ᵉ,</text><text class="p" x="658" y="388">t, J<tspan class="s">Rh</tspan>, <tspan class="rd">π<tspan class="s">hjrep</tspan></tspan></text><text class="p pl" x="681" y="417">c<tspan class="s">hjrep</tspan></text><text class="p pl" x="681" y="426">t<tspan class="s">hjrep</tspan></text><text class="p pl" x="681" y="434">C<tspan class="s">hjrep</tspan></text></g>
<g id="hosp-fatality-cost"><rect class="bx" x="688" y="373" width="43" height="39"/><text class="n" x="709.5" y="390">Hosp <tspan class="i">k</tspan></text><text class="n" x="709.5" y="400">Fatality Cost</text><text class="p" x="709" y="364">t, J<tspan class="s">Rh</tspan>, V<tspan class="s">RL</tspan></text><text class="p pl" x="733" y="389">C<tspan class="s">hkfat</tspan></text></g>
<g id="hosp-restoration"><rect class="gb" x="491" y="468" width="42" height="40"/><text class="n" x="512" y="480">Hosp <tspan class="i">k</tspan></text><text class="n" x="512" y="489">Restoration</text><text class="n tc" x="512" y="498">(Time)</text><text class="p pl" x="535" y="487">c<tspan class="s">hkrr</tspan></text><text class="p pl" x="535" y="495">η<tspan class="s">hks</tspan></text></g>
<g id="hosp-injured-treatment"><rect class="gb" x="558" y="468" width="42" height="40"/><text class="n" x="579" y="477">Hosp <tspan class="i">k</tspan></text><text class="n" x="579" y="486">Injured</text><text class="n" x="579" y="495">Treatment</text><text class="n tc" x="579" y="504">(Time, Cost)</text><text class="p" x="578" y="459">t, J<tspan class="s">Rh</tspan>, V<tspan class="s">RL</tspan>, <tspan class="rd">π<tspan class="s">hjinj</tspan></tspan></text><text class="p pl" x="602" y="482">c<tspan class="s">hj</tspan></text><text class="p pl" x="602" y="489">t<tspan class="s">hjinj</tspan></text><text class="p pl" x="602" y="496">C<tspan class="s">hjinj</tspan></text></g>

<!-- power station -->
<g id="pwr-damage"><rect class="bx" x="246" y="571" width="42" height="40"/><text class="n" x="267" y="589">Pwr Stn <tspan class="i">p</tspan></text><text class="n" x="267" y="599">Damage</text><text class="p" x="267" y="561">ω<tspan class="s">p</tspan>, J<tspan class="s">p</tspan>, β<tspan class="s">p</tspan>ᶜ, β<tspan class="s">p</tspan>ᵉ</text><text class="p pl" x="291" y="599">ε<tspan class="s">p</tspan></text><text class="p pl" x="291" y="607">q<tspan class="s">p</tspan></text></g>
<g id="pwr-service"><rect class="bx" x="298" y="546" width="42" height="41"/><text class="n" x="319" y="564">Pwr Stn <tspan class="i">p</tspan></text><text class="n" x="319" y="574">Service</text><text class="p pl" x="344" y="562">S<tspan class="s">p</tspan>ᴾ</text></g>
<g id="pwr-damage-inspection"><rect class="gb" x="472" y="546" width="43" height="41"/><text class="n" x="493.5" y="555">Pwr Stn <tspan class="i">p</tspan></text><text class="n" x="493.5" y="564.5">Damage</text><text class="n" x="493.5" y="574">Inspection</text><text class="n tc" x="493.5" y="583">(Time, Cost)</text><text class="p" x="493" y="534">t, J<tspan class="s">Rp</tspan>, <tspan class="rd">π<tspan class="s">pjdam</tspan></tspan></text><text class="p pl" x="518" y="562">c<tspan class="s">pjdam</tspan></text><text class="p pl" x="518" y="571">t<tspan class="s">pjdam</tspan></text><text class="p pl" x="518" y="579">C<tspan class="s">pjdam</tspan></text></g>
<g id="pwr-repair"><rect class="gb" x="584" y="546" width="43" height="41"/><text class="n" x="605.5" y="559">Pwr Stn <tspan class="i">p</tspan></text><text class="n" x="605.5" y="568">Repair</text><text class="n tc" x="605.5" y="577">(Time, Cost)</text><text class="p" x="605" y="534">ω<tspan class="s">p</tspan>, J<tspan class="s">p</tspan>, V<tspan class="s">p</tspan>, t, J<tspan class="s">Rp</tspan>, <tspan class="rd">π<tspan class="s">pjrep</tspan></tspan></text><text class="p pl" x="630" y="562">c<tspan class="s">pjrep</tspan></text><text class="p pl" x="630" y="571">t<tspan class="s">pjrep</tspan></text><text class="p pl" x="630" y="579">C<tspan class="s">pjrep</tspan></text></g>

<!-- water station -->
<g id="wtr-damage"><rect class="bx" x="246" y="647" width="42" height="40"/><text class="n" x="267" y="665">Wtr Stn <tspan class="i">q</tspan></text><text class="n" x="267" y="675">Damage</text><text class="p" x="267" y="637">ω<tspan class="s">q</tspan>, J<tspan class="s">q</tspan>, β<tspan class="s">q</tspan>ᶜ, β<tspan class="s">q</tspan>ᵉ</text><text class="p pl" x="291" y="676">ε<tspan class="s">q</tspan></text><text class="p pl" x="291" y="684">q<tspan class="s">q</tspan></text></g>
<g id="wtr-service"><rect class="bx" x="348" y="624" width="44" height="39"/><text class="n" x="370" y="641">Wtr Stn <tspan class="i">q</tspan></text><text class="n" x="370" y="651">Service</text><text class="p pl" x="400" y="637">S<tspan class="s">q</tspan>ᵂ</text></g>
<g id="wtr-damage-inspection"><rect class="gb" x="472" y="623" width="43" height="40"/><text class="n" x="493.5" y="632">Wtr Stn <tspan class="i">q</tspan></text><text class="n" x="493.5" y="641.5">Damage</text><text class="n" x="493.5" y="651">Inspection</text><text class="n tc" x="493.5" y="660">(Time, Cost)</text><text class="p" x="493" y="612">t, J<tspan class="s">Rq</tspan>, <tspan class="rd">π<tspan class="s">qjdam</tspan></tspan></text><text class="p pl" x="518" y="639">c<tspan class="s">qjdam</tspan></text><text class="p pl" x="518" y="647">t<tspan class="s">qjdam</tspan></text><text class="p pl" x="518" y="655">C<tspan class="s">qjdam</tspan></text></g>
<g id="wtr-repair"><rect class="gb" x="584" y="623" width="43" height="40"/><text class="n" x="605.5" y="635">Wtr Stn <tspan class="i">q</tspan></text><text class="n" x="605.5" y="644">Repair</text><text class="n tc" x="605.5" y="653">(Time, Cost)</text><text class="p" x="605" y="610">ω<tspan class="s">q</tspan>, J<tspan class="s">q</tspan>, V<tspan class="s">q</tspan>, t, J<tspan class="s">Rq</tspan>, <tspan class="rd">π<tspan class="s">qjrep</tspan></tspan></text><text class="p pl" x="630" y="638">c<tspan class="s">qjrep</tspan></text><text class="p pl" x="630" y="646">t<tspan class="s">qjrep</tspan></text><text class="p pl" x="630" y="654">C<tspan class="s">qjrep</tspan></text></g>

<!-- cost stores -->
<g id="cost-fatality"><use href="#cyl" x="795" y="15"/><text class="ct" x="816.5" y="36">Fatality</text><text class="ct" x="816.5" y="46">Costs</text><text class="p pl" x="842" y="31">C<tspan class="s">fat</tspan></text></g>
<g id="cost-search-rescue"><use href="#cyl" x="795" y="60"/><text class="ct" x="816.5" y="75">Search and</text><text class="ct" x="816.5" y="85">Rescue</text><text class="ct" x="816.5" y="95">Costs</text><text class="p pl" x="842" y="77">C<tspan class="s">sar</tspan></text></g>
<g id="cost-injuries"><use href="#cyl" x="795" y="106"/><text class="ct" x="816.5" y="127">Injuries</text><text class="ct" x="816.5" y="137">Costs</text><text class="p pl" x="842" y="123">C<tspan class="s">inj</tspan></text></g>
<g id="cost-shelter"><use href="#cyl" x="795" y="224"/><text class="ct" x="816.5" y="239">Temporary</text><text class="ct" x="816.5" y="249">Shelter</text><text class="ct" x="816.5" y="259">Costs</text><text class="p pl" x="842" y="240">C<tspan class="s">sh</tspan></text></g>
<g id="cost-relocation"><use href="#cyl" x="795" y="269"/><text class="ct" x="816.5" y="290">Relocation</text><text class="ct" x="816.5" y="300">Costs</text><text class="p pl" x="842" y="285">C<tspan class="s">Re</tspan></text></g>
<g id="cost-business-income"><use href="#cyl" x="795" y="314"/><text class="ct" x="816.5" y="335">Business</text><text class="ct" x="816.5" y="345">Income Loss</text><text class="p pl" x="842" y="330">C<tspan class="s">BIn</tspan></text></g>
<g id="cost-bldg-inspection"><use href="#cyl" x="795" y="378"/><text class="ct" x="816.5" y="393">Building</text><text class="ct" x="816.5" y="403">Inspection</text><text class="ct" x="816.5" y="413">Costs</text><text class="p pl" x="841" y="394">C<tspan class="s">bldg,insp</tspan></text></g>
<g id="cost-repair-mobilization"><use href="#cyl" x="795" y="423"/><text class="ct" x="816.5" y="438">Repair</text><text class="ct" x="816.5" y="448">Mobilization</text><text class="ct" x="816.5" y="458">Costs</text><text class="p pl" x="841" y="439">C<tspan class="s">bldg,mob</tspan></text></g>
<g id="cost-bldg-repair"><use href="#cyl" x="795" y="468"/><text class="ct" x="816.5" y="483">Building</text><text class="ct" x="816.5" y="493">Repair</text><text class="ct" x="816.5" y="503">Costs</text><text class="p pl" x="841" y="484">C<tspan class="s">bldg,rep</tspan></text></g>
<g id="cost-pwr-inspection"><use href="#cyl" x="795" y="513"/><text class="ct" x="816.5" y="528">Pwr Stn</text><text class="ct" x="816.5" y="538">Inspection</text><text class="ct" x="816.5" y="548">Costs</text><text class="p pl" x="841" y="529">C<tspan class="s">pwr,insp</tspan></text></g>
<g id="cost-pwr-repair"><use href="#cyl" x="795" y="557"/><text class="ct" x="816.5" y="572">Pwr Stn</text><text class="ct" x="816.5" y="582">Repair</text><text class="ct" x="816.5" y="592">Costs</text><text class="p pl" x="841" y="574">C<tspan class="s">pwr,rep</tspan></text></g>
<g id="cost-wtr-inspection"><use href="#cyl" x="795" y="602"/><text class="ct" x="816.5" y="617">Wtr Station</text><text class="ct" x="816.5" y="627">Inspection</text><text class="ct" x="816.5" y="637">Costs</text><text class="p pl" x="841" y="619">C<tspan class="s">wtr,insp</tspan></text></g>
<g id="cost-wtr-repair"><use href="#cyl" x="795" y="647"/><text class="ct" x="816.5" y="662">Wtr Stn</text><text class="ct" x="816.5" y="672">Repair</text><text class="ct" x="816.5" y="682">Costs</text><text class="p pl" x="841" y="664">C<tspan class="s">wtr,rep</tspan></text></g>
<g id="cost-social"><use href="#cylb" x="867" y="48"/><text class="ct" x="888.5" y="79">Social</text><text class="ct" x="888.5" y="89">Costs</text><text class="p pl" x="913" y="77">C<tspan class="s">S</tspan></text></g>
<g id="cost-indirect"><use href="#cylb" x="867" y="257"/><text class="ct" x="888.5" y="283">Indirect</text><text class="ct" x="888.5" y="293">Economic</text><text class="ct" x="888.5" y="303">Costs</text><text class="p pl" x="912" y="285">C<tspan class="s">IE</tspan></text></g>
<g id="cost-direct"><use href="#cylb" x="867" y="500"/><text class="ct" x="888.5" y="526">Direct</text><text class="ct" x="888.5" y="536">Economic</text><text class="ct" x="888.5" y="546">Costs</text><text class="p pl" x="912" y="529">C<tspan class="s">DE</tspan></text></g>
<g id="cost-total"><path d="M930,229 A40,7 0 0 1 1010,229 V346 A40,7 0 0 1 930,346 Z M930,229 A40,7 0 0 0 1010,229" fill="#fff" stroke="#2b2b2b" stroke-width="1.1"/><text class="ct" x="951" y="288" font-size="10.5">TOTAL</text><text class="ct" x="951" y="301" font-size="10.5">COSTS</text></g>

<!-- overlay heading -->
<g id="heading">
<text class="tt" x="-43" y="694" font-size="64" font-weight="700" style="text-anchor:start" textLength="296" lengthAdjust="spacingAndGlyphs">Resiliency</text>
<text class="tt" x="281" y="694" font-size="64" font-weight="700" style="text-anchor:start" textLength="287" lengthAdjust="spacingAndGlyphs">Modeling</text>
</g>
</svg>
